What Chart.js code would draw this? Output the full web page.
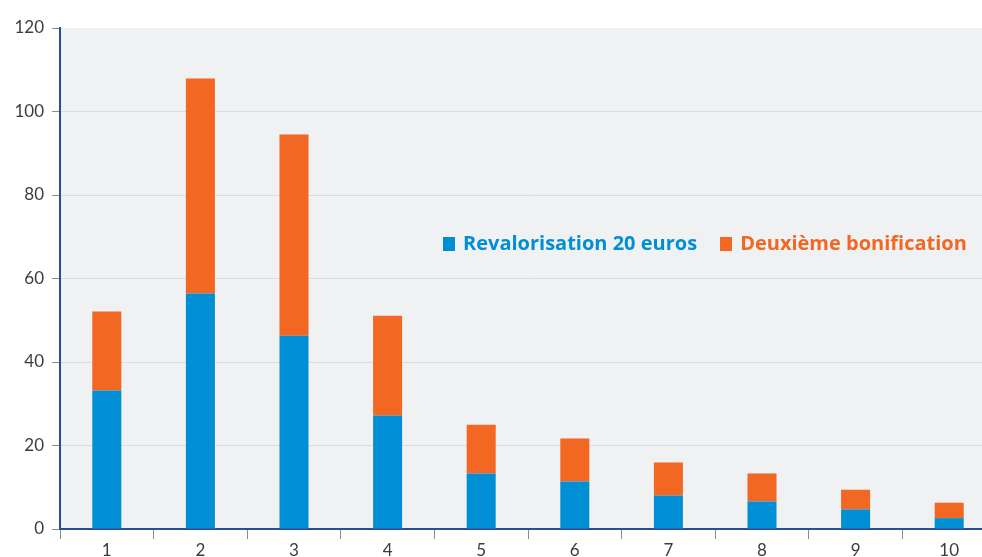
<!DOCTYPE html>
<html>
<head>
<meta charset="utf-8">
<script src="https://cdn.jsdelivr.net/npm/chart.js@4/dist/chart.umd.min.js"></script>
<style>
    html, body { margin: 0; padding: 0; background: #ffffff; overflow: hidden; }
    #wrap { position: relative; width: 1000px; height: 557px; }
    #legend {
        position: absolute; left: 443px; top: 229px;
        font-family: "Open Sans", sans-serif; font-weight: bold; font-size: 20px;
        white-space: nowrap;
    }
    #legend span.item { display: inline-block; margin-right: 23px; }
    #legend span.box { display: inline-block; width: 12px; height: 14px; margin-right: 8px; vertical-align: -1px; }
</style>
</head>
<body>
<div id="wrap">
    <canvas id="chart" width="1000" height="557"></canvas>
    <div id="legend"></div>
</div>
<script>
"use strict";

// Data
var categories = ["1", "2", "3", "4", "5", "6", "7", "8", "9", "10"];
var revalorisation = [33.2, 56.4, 46.3, 27.2, 13.3, 11.4, 8.0, 6.6, 4.7, 2.6];
var bonification = [18.9, 51.5, 48.2, 23.9, 11.7, 10.3, 7.9, 6.7, 4.7, 3.7];
var seriesNames = ["Revalorisation 20 euros", "Deuxième bonification"];

var settings = {
    blue: "#008fd5",
    orange: "#f26722",
    plotBg: "#f0f1f3",
    grid: "#dadbdd",
    axis: "#2b4c9c",
    tickMark: "#8a8a8a",
    text: "#3c3c3c",
    font: "Lato, sans-serif"
};

// fill the plot area with the grey background
var plotBackground = {
    id: "plotBackground",
    beforeDraw: function (chart) {
        var a = chart.chartArea, ctx = chart.ctx;
        ctx.save();
        ctx.fillStyle = settings.plotBg;
        ctx.fillRect(a.left, a.top, a.right - a.left, a.bottom - a.top);
        ctx.restore();
    }
};

var ctx = document.getElementById("chart").getContext("2d");
var chart = new Chart(ctx, {
    type: "bar",
    data: {
        labels: categories,
        datasets: [
            { label: seriesNames[0], data: revalorisation, backgroundColor: settings.blue },
            { label: seriesNames[1], data: bonification, backgroundColor: settings.orange }
        ]
    },
    plugins: [plotBackground],
    options: {
        responsive: false,
        animation: false,
        layout: { padding: { top: 28, right: 4, left: 0, bottom: 0 } },
        barPercentage: 0.31,
        categoryPercentage: 1,
        plugins: {
            legend: { display: false },
            tooltip: { enabled: false }
        },
        scales: {
            x: {
                stacked: true,
                grid: {
                    offset: true,
                    drawOnChartArea: false,
                    drawTicks: true,
                    tickLength: 10,
                    tickColor: settings.tickMark,
                    tickWidth: 1
                },
                border: { color: settings.axis, width: 2 },
                ticks: {
                    color: settings.text,
                    font: { family: settings.font, size: 17 },
                    padding: 1
                },
                afterFit: function (scale) { scale.height = 28; }
            },
            y: {
                stacked: true,
                min: 0,
                max: 120,
                grid: {
                    color: function (c) { return c.tick && c.tick.value === 120 ? "rgba(0,0,0,0)" : settings.grid; },
                    tickColor: settings.tickMark,
                    tickLength: 8,
                    lineWidth: 1
                },
                border: { color: settings.axis, width: 2 },
                ticks: {
                    stepSize: 20,
                    color: settings.text,
                    font: { family: settings.font, size: 17 },
                    padding: 8
                },
                afterFit: function (scale) { scale.width = 60; }
            }
        }
    }
});

// legend drawn as text over the plot
var legend = document.getElementById("legend");
[settings.blue, settings.orange].forEach(function (col, i) {
    var item = document.createElement("span");
    item.className = "item";
    item.style.color = col;
    var box = document.createElement("span");
    box.className = "box";
    box.style.background = col;
    item.appendChild(box);
    item.appendChild(document.createTextNode(seriesNames[i]));
    legend.appendChild(item);
});
</script>
</body>
</html>
